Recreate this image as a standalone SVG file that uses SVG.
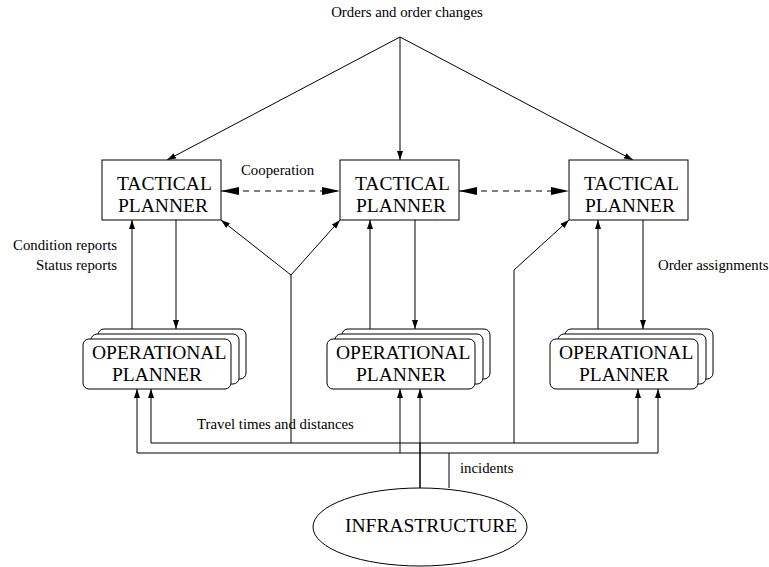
<svg xmlns="http://www.w3.org/2000/svg" width="769" height="567" viewBox="0 0 769 567">
<style>
  .big { font-size: 19.5px; fill: #000; }
  .lbl { font-size: 14.8px; fill: #000; }
  .box { fill: #fff; stroke: #000; stroke-width: 1; }
  .ln { fill: none; stroke: #000; stroke-width: 1; }
  .arr { fill: none; stroke: #000; stroke-width: 1; marker-end: url(#ah); }
  .dash { fill: none; stroke: #000; stroke-width: 1; stroke-dasharray: 6 5; marker-start: url(#bigS); marker-end: url(#bigE); }
</style>
<defs>
  <marker id="ah" markerUnits="userSpaceOnUse" markerWidth="10" markerHeight="6" refX="9" refY="3" orient="auto">
    <path d="M0,0 L9,3 L0,6 z" fill="#000"/>
  </marker>
  <marker id="bigE" markerUnits="userSpaceOnUse" markerWidth="18" markerHeight="8" refX="18" refY="4" orient="auto">
    <path d="M0,0 L18,4 L0,8 z" fill="#000"/>
  </marker>
  <marker id="bigS" markerUnits="userSpaceOnUse" markerWidth="18" markerHeight="8" refX="0" refY="4" orient="auto">
    <path d="M18,0 L0,4 L18,8 z" fill="#000"/>
  </marker>
</defs>

<g id="connectors">
  <path class="arr" d="M400,37 L167,160"/>
  <path class="arr" d="M400,37 L400,160"/>
  <path class="arr" d="M400,37 L633,160"/>
  <path class="dash" d="M221,191 L340,191"/>
  <path class="dash" d="M459,191 L569,191"/>
  <path class="arr" d="M132,329 L132,220"/>
  <path class="arr" d="M176,220 L176,329"/>
  <path class="arr" d="M370,329 L370,220"/>
  <path class="arr" d="M415,220 L415,329"/>
  <path class="arr" d="M598,329 L598,220"/>
  <path class="arr" d="M643,220 L643,329"/>
  <path class="ln" d="M291,443 L291,275"/>
  <path class="arr" d="M291,275 L221,220"/>
  <path class="arr" d="M291,275 L340,220"/>
  <path class="arr" d="M514,443 L514,270 L569,220"/>
  <path class="arr" d="M420,443 L151,443 L151,389"/>
  <path class="arr" d="M420,443 L638,443 L638,389"/>
  <path class="arr" d="M420,488 L420,389"/>
  <path class="ln" d="M420,443 L420,488" stroke-width="2"/>
  <path class="arr" d="M449,488 L449,453 L137,453 L137,389"/>
  <path class="arr" d="M449,453 L658,453 L658,389"/>
  <path class="arr" d="M400,453 L400,389"/>
  <g font-family="'Liberation Serif', 'Times New Roman', 'DejaVu Serif', serif">
  <text class="lbl" x="407" y="17" text-anchor="middle">Orders and order changes</text>
  <text class="lbl" x="241" y="175">Cooperation</text>
  <text class="lbl" x="117" y="250" text-anchor="end">Condition reports</text>
  <text class="lbl" x="117" y="270" text-anchor="end">Status reports</text>
  <text class="lbl" x="658" y="270">Order assignments</text>
  <text class="lbl" x="197" y="429">Travel times and distances</text>
  <text class="lbl" x="460" y="473">incidents</text>
  </g>
</g>

<g id="tactical-left" font-family="'Liberation Serif', 'Times New Roman', 'DejaVu Serif', serif">
  <rect class="box" x="102" y="160" width="119" height="60"/>
  <text class="big" x="117" y="190">TACTICAL</text>
  <text class="big" x="118" y="212">PLANNER</text>
</g>
<g id="tactical-middle" font-family="'Liberation Serif', 'Times New Roman', 'DejaVu Serif', serif">
  <rect class="box" x="340" y="160" width="119" height="60"/>
  <text class="big" x="355" y="190">TACTICAL</text>
  <text class="big" x="356" y="212">PLANNER</text>
</g>
<g id="tactical-right" font-family="'Liberation Serif', 'Times New Roman', 'DejaVu Serif', serif">
  <rect class="box" x="569" y="160" width="119" height="60"/>
  <text class="big" x="584" y="190">TACTICAL</text>
  <text class="big" x="585" y="212">PLANNER</text>
</g>

<g id="operational-left" font-family="'Liberation Serif', 'Times New Roman', 'DejaVu Serif', serif">
  <rect class="box" x="98" y="329" width="148" height="50" rx="6"/>
  <rect class="box" x="91" y="334" width="148" height="50" rx="6"/>
  <rect class="box" x="83" y="339" width="148" height="50" rx="6"/>
  <text class="big" x="92" y="359">OPERATIONAL</text>
  <text class="big" x="112" y="381">PLANNER</text>
</g>
<g id="operational-middle" font-family="'Liberation Serif', 'Times New Roman', 'DejaVu Serif', serif">
  <rect class="box" x="342" y="329" width="148" height="50" rx="6"/>
  <rect class="box" x="335" y="334" width="148" height="50" rx="6"/>
  <rect class="box" x="327" y="339" width="148" height="50" rx="6"/>
  <text class="big" x="336" y="359">OPERATIONAL</text>
  <text class="big" x="356" y="381">PLANNER</text>
</g>
<g id="operational-right" font-family="'Liberation Serif', 'Times New Roman', 'DejaVu Serif', serif">
  <rect class="box" x="565" y="329" width="148" height="50" rx="6"/>
  <rect class="box" x="558" y="334" width="148" height="50" rx="6"/>
  <rect class="box" x="550" y="339" width="148" height="50" rx="6"/>
  <text class="big" x="559" y="359">OPERATIONAL</text>
  <text class="big" x="579" y="381">PLANNER</text>
</g>

<g id="infrastructure" font-family="'Liberation Serif', 'Times New Roman', 'DejaVu Serif', serif">
  <ellipse class="box" cx="420" cy="527" rx="107" ry="39"/>
  <text class="big" x="345" y="532">INFRASTRUCTURE</text>
</g>
</svg>
